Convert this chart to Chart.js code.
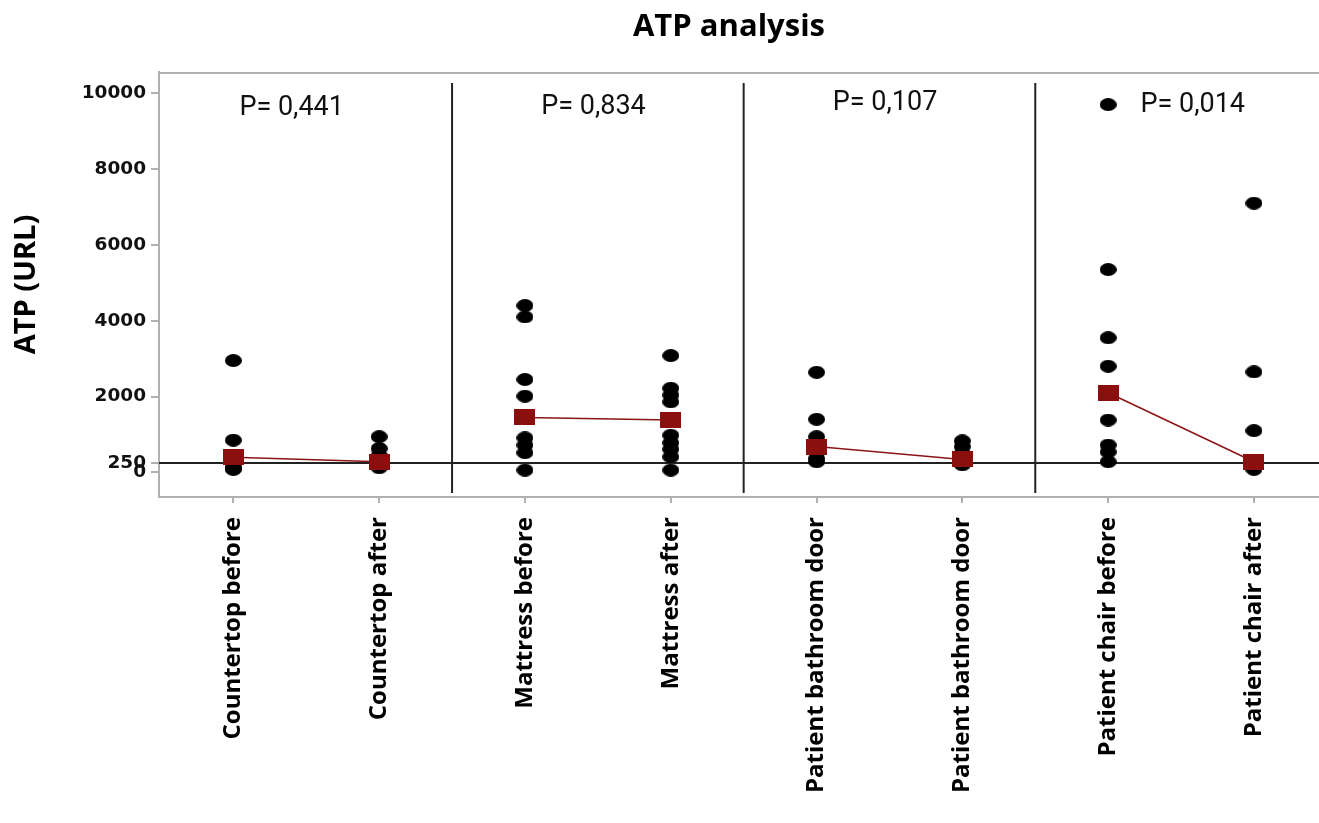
<!DOCTYPE html>
<html><head><meta charset="utf-8">
<script src="https://cdn.jsdelivr.net/npm/chart.js@4"></script>
<style>html,body{margin:0;padding:0;background:#fff;overflow:hidden}#wrap{width:1319px;height:823px;position:relative}</style>
</head><body><div id="wrap"><canvas id="c" width="1319" height="823"></canvas></div>
<script>
// ---- data ----
const chartTitle = 'ATP analysis';
const yAxisTitle = 'ATP (URL)';
const categories = ['Countertop before','Countertop after','Mattress before','Mattress after','Patient bathroom door','Patient bathroom door','Patient chair before','Patient chair after'];
const countertopBefore = [2950, 850, 450, 300, 150, 100, 80];
const countertopAfter = [940, 630, 450, 300, 200, 120];
const mattressBefore = [4400, 4100, 2450, 2010, 910, 720, 520, 60];
const mattressAfter = [3080, 2220, 2040, 1860, 980, 780, 610, 410, 60];
const bathroomDoorBefore = [2640, 1400, 940, 700, 540, 370, 280];
const bathroomDoorAfter = [830, 680, 500, 350, 200];
const chairBefore = [9700, 5350, 3550, 2800, 1380, 720, 540, 280];
const chairAfter = [7100, 2650, 1100, 300, 80];
const meanValues = [400, 280, 1450, 1380, 680, 340, 2100, 280];
const yTickValues = [0, 250, 2000, 4000, 6000, 8000, 10000];
const referenceValue = 250;
const pValueLabels = ['P= 0,441', 'P= 0,834', 'P= 0,107', 'P= 0,014'];
// annotation anchors in data units
const pValueX = [0.40, 2.47, 4.47, 6.58];
const pValueY = [9600, 9630, 9740, 9670];
const separatorX = [1.5, 3.5, 5.5];

const groups = [countertopBefore, countertopAfter, mattressBefore, mattressAfter, bathroomDoorBefore, bathroomDoorAfter, chairBefore, chairAfter];

// ---- build ----
const dotPoints = [];
groups.forEach((vals, i) => vals.forEach(v => dotPoints.push({x: i, y: v})));
const meanPoints = [];
meanValues.forEach((v, i) => {
  meanPoints.push({x: i, y: v});
  if (i % 2 === 1 && i < meanValues.length - 1) meanPoints.push({x: i + 0.5, y: null});
});

function makeEllipse(w, h, color) {
  const c = document.createElement('canvas'); c.width = w; c.height = h;
  const x = c.getContext('2d'); x.fillStyle = color;
  x.beginPath(); x.ellipse(w / 2, h / 2, w / 2, h / 2, 0, 0, Math.PI * 2); x.fill();
  return c;
}
function makeRect(w, h, color) {
  const c = document.createElement('canvas'); c.width = w; c.height = h;
  const x = c.getContext('2d'); x.fillStyle = color; x.fillRect(0, 0, w, h);
  return c;
}
const dotImg = makeEllipse(17, 13, '#000000');
const squareImg = makeRect(21, 16, '#8c0f0f');

const decor = {
  id: 'decor',
  beforeDatasetsDraw(chart) {
    const {ctx, chartArea: a, scales: {x, y}} = chart;
    ctx.save();
    ctx.strokeStyle = '#b0b0b0'; ctx.lineWidth = 2;
    ctx.beginPath(); ctx.moveTo(a.left, a.top + 1); ctx.lineTo(a.right, a.top + 1); ctx.stroke();
    ctx.strokeStyle = '#222'; ctx.lineWidth = 2;
    const ry = y.getPixelForValue(referenceValue);
    ctx.beginPath(); ctx.moveTo(a.left, ry); ctx.lineTo(a.right, ry); ctx.stroke();
    separatorX.forEach(v => {
      const px = x.getPixelForValue(v);
      ctx.beginPath(); ctx.moveTo(px, a.top + 11); ctx.lineTo(px, a.bottom - 4); ctx.stroke();
    });
    ctx.restore();
  },
  afterDraw(chart) {
    const {ctx, chartArea: a, scales: {x, y}} = chart;
    ctx.save();
    ctx.fillStyle = '#000';
    ctx.textAlign = 'center'; ctx.textBaseline = 'middle';
    ctx.font = 'bold 31px "Open Sans"';
    ctx.fillText(chartTitle, (a.left + a.right) / 2 - 10, 27);
    ctx.font = '27px Roboto';
    ctx.fillStyle = '#111';
    pValueLabels.forEach((t, i) => {
      ctx.fillText(t, x.getPixelForValue(pValueX[i]), y.getPixelForValue(pValueY[i]));
    });
    ctx.restore();
  }
};

new Chart(document.getElementById('c'), {
  type: 'scatter',
  data: {
    datasets: [
      {type: 'line', data: meanPoints, borderColor: '#8c1414', borderWidth: 1.5, pointStyle: squareImg, pointRadius: 10, showLine: true, spanGaps: false, fill: false},
      {type: 'scatter', data: dotPoints, pointStyle: dotImg, pointRadius: 8}
    ]
  },
  options: {
    responsive: false, animation: false, devicePixelRatio: 1,
    layout: {autoPadding: false, padding: {top: 72, left: 0, right: 0, bottom: 0}},
    plugins: {legend: {display: false}, tooltip: {enabled: false}, title: {display: false}},
    scales: {
      x: {
        type: 'linear', min: -0.51, max: 7.446,
        afterBuildTicks: s => { s.ticks = categories.map((_, i) => ({value: i})); },
        afterFit: s => { s.height = 326; s.paddingLeft = 0; s.paddingRight = 0; },
        ticks: {autoSkip: false, minRotation: 90, maxRotation: 90, padding: 14, color: '#000',
          font: {family: 'Open Sans', weight: 'bold', size: 24},
          callback: (v, i) => categories[i]},
        grid: {drawOnChartArea: false, tickLength: 6, color: '#b0b0b0', lineWidth: 2},
        border: {color: '#b0b0b0', width: 2}
      },
      y: {
        min: -650, max: 10560,
        afterBuildTicks: s => { s.ticks = yTickValues.map(v => ({value: v})); },
        afterFit: s => { s.width = 159; s.paddingTop = 0; s.paddingBottom = 0; },
        ticks: {autoSkip: false, padding: 5, color: '#111',
          font: {family: 'DejaVu Sans', weight: 'bold', size: 18.5},
          callback: v => String(v)},
        grid: {drawOnChartArea: false, tickLength: 8, color: '#b0b0b0', lineWidth: 2},
        border: {color: '#b0b0b0', width: 2},
        title: {display: true, text: yAxisTitle, color: '#000', padding: {top: 9, bottom: 0},
          font: {family: 'Open Sans', weight: 'bold', size: 29}}
      }
    }
  },
  plugins: [decor]
});
</script></body></html>
